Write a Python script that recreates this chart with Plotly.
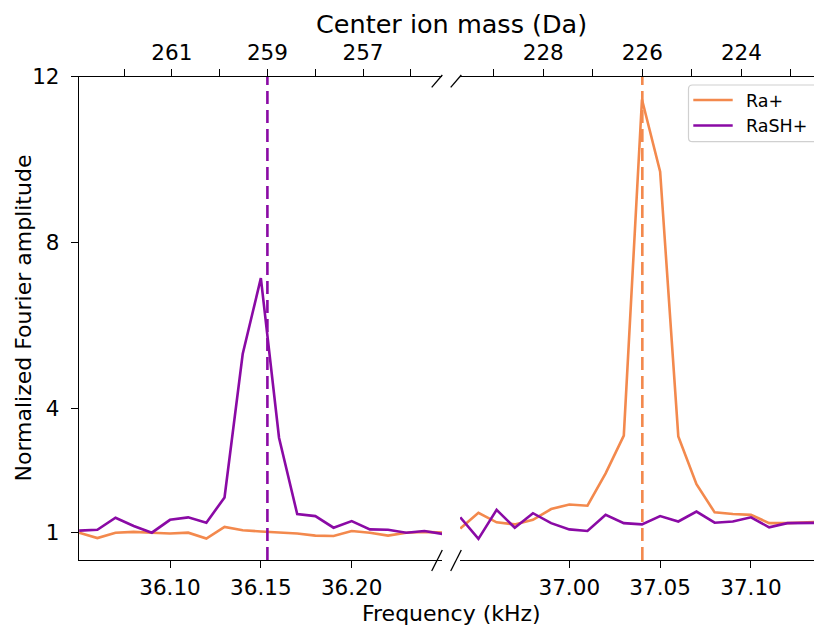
import plotly.graph_objects as go

# Frequency grids (kHz) of the two scan windows
freq_low = [36.05, 36.06, 36.07, 36.08, 36.09, 36.10, 36.11, 36.12, 36.13, 36.14, 36.15,
            36.16, 36.17, 36.18, 36.19, 36.20, 36.21, 36.22, 36.23, 36.24, 36.25]
freq_high = [36.94, 36.95, 36.96, 36.97, 36.98, 36.99, 37.00, 37.01, 37.02, 37.03, 37.04,
             37.05, 37.06, 37.07, 37.08, 37.09, 37.10, 37.11, 37.12, 37.13, 37.14]

# Normalized Fourier amplitudes
ra_low = [1.00, 0.87, 1.00, 1.02, 1.00, 0.98, 1.00, 0.86, 1.14, 1.06, 1.03,
          1.01, 0.98, 0.93, 0.92, 1.04, 1.00, 0.93, 1.00, 1.02, 1.00]
rash_low = [1.05, 1.07, 1.36, 1.16, 1.00, 1.31, 1.37, 1.24, 1.85, 5.31, 7.14,
            3.29, 1.45, 1.40, 1.12, 1.28, 1.08, 1.07, 1.00, 1.04, 0.97]
ra_high = [1.10, 1.48, 1.25, 1.20, 1.31, 1.57, 1.68, 1.65, 2.43, 3.34, 11.45,
           9.71, 3.32, 2.17, 1.49, 1.45, 1.43, 1.23, 1.23, 1.24, 1.27]
rash_high = [1.37, 0.85, 1.55, 1.12, 1.47, 1.23, 1.08, 1.04, 1.43, 1.23, 1.20,
             1.40, 1.27, 1.51, 1.24, 1.27, 1.37, 1.13, 1.23, 1.23, 1.24]

# Axis ticks
freq_low_ticks = [36.10, 36.15, 36.20]
freq_high_ticks = [37.00, 37.05, 37.10]
amp_ticks = [1, 4, 8, 12]
mass_low_ticks = [262, 261, 260, 259, 258, 257, 256]
mass_low_labels = ["", "261", "", "259", "", "257", ""]
mass_high_ticks = [229, 228, 227, 226, 225, 224, 223]
mass_high_labels = ["", "228", "", "226", "", "224", ""]

# Series names
species = ["Ra+", "RaSH+"]

# Center masses of the two species (Da)
rash_mass = 259
ra_mass = 226

# Mass -> frequency calibration of each window: (reference mass, frequency, kHz per Da)
cal_low = (259, 36.1536, 0.02631)
cal_high = (226, 37.0402, 0.02727)


def mass_to_freq(m, cal):
    m0, f0, step = cal
    return f0 + (m0 - m) * step


ORANGE = "#F3894D"
PURPLE = "#8A0AA5"
FONT = "DejaVu Sans"
W, H = 814, 627


def px(x):
    return x / W


def py(y):
    return (H - y) / H


x_low_range = [36.0499, 36.2497]
x_high_range = [36.93985, 37.13468]
y_range = [0.341, 12.0]

fig = go.Figure()

series = [
    (freq_low, ra_low, "x", species[0], ORANGE),
    (freq_low, rash_low, "x", species[1], PURPLE),
    (freq_high, ra_high, "x2", species[0], ORANGE),
    (freq_high, rash_high, "x2", species[1], PURPLE),
]
for xs, ys, ax, name, color in series:
    fig.add_trace(go.Scatter(x=xs, y=ys, xaxis=ax, yaxis="y", mode="lines", name=name,
                             showlegend=False, line=dict(color=color, width=2.6)))

# Dashed markers at the expected masses, placed on the mass axes
f_rash = mass_to_freq(rash_mass, cal_low)
f_ra = mass_to_freq(ra_mass, cal_high)
fig.add_trace(go.Scatter(x=[f_rash, f_rash], y=y_range, xaxis="x3", yaxis="y", mode="lines",
                         showlegend=False, hoverinfo="skip",
                         line=dict(color=PURPLE, width=2.6, dash="13px,6px")))
fig.add_trace(go.Scatter(x=[f_ra, f_ra], y=y_range, xaxis="x4", yaxis="y", mode="lines",
                         showlegend=False, hoverinfo="skip",
                         line=dict(color=ORANGE, width=2.6, dash="13px,6px")))

tick_font = dict(family=FONT, size=21.5, color="black")
axis_common = dict(showgrid=False, zeroline=False, showline=True, linecolor="black",
                   linewidth=1.3, ticks="outside", ticklen=7, tickwidth=1.3,
                   tickcolor="black", tickfont=tick_font, automargin=False)

dom_low = [px(79), px(442)]
dom_high = [px(460), 1.0]
dom_y = [py(560), py(76.7)]

fig.update_layout(
    width=W, height=H,
    margin=dict(l=0, r=0, t=0, b=0, autoexpand=False),
    paper_bgcolor="white", plot_bgcolor="white",
    showlegend=False,
    xaxis=dict(axis_common, domain=dom_low, range=x_low_range, anchor="y",
               tickvals=freq_low_ticks, ticktext=[f"{v:.2f}" for v in freq_low_ticks],
               ticklabelstandoff=1),
    xaxis2=dict(axis_common, domain=dom_high, range=x_high_range, anchor="y",
                tickvals=freq_high_ticks, ticktext=[f"{v:.2f}" for v in freq_high_ticks],
                ticklabelstandoff=1),
    xaxis3=dict(axis_common, overlaying="x", side="top", range=x_low_range, anchor="y",
                tickvals=[mass_to_freq(m, cal_low) for m in mass_low_ticks],
                ticktext=mass_low_labels, ticklabelstandoff=0),
    xaxis4=dict(axis_common, overlaying="x2", side="top", range=x_high_range, anchor="y",
                tickvals=[mass_to_freq(m, cal_high) for m in mass_high_ticks],
                ticktext=mass_high_labels, ticklabelstandoff=0),
    yaxis=dict(axis_common, domain=dom_y, range=y_range, anchor="x",
               tickvals=amp_ticks, ticktext=[str(v) for v in amp_ticks],
               ticklabelstandoff=7),
)

# Axis titles
fig.add_annotation(text="Center ion mass (Da)", x=px(451), y=py(24),
                   xref="paper", yref="paper", showarrow=False,
                   xanchor="center", yanchor="middle",
                   font=dict(family=FONT, size=25.5, color="black"))
fig.add_annotation(text="Frequency (kHz)", x=px(451), y=py(613),
                   xref="paper", yref="paper", showarrow=False,
                   xanchor="center", yanchor="middle",
                   font=dict(family=FONT, size=22, color="black"))
fig.add_annotation(text="Normalized Fourier amplitude", x=px(23), y=py(318.5),
                   xref="paper", yref="paper", showarrow=False, textangle=-90,
                   xanchor="center", yanchor="middle",
                   font=dict(family=FONT, size=22, color="black"))

# Axis break marks
for cx in (437, 456):
    for y0, y1 in ((87.3, 75.0), (571.0, 550.0)):
        fig.add_shape(type="line", xref="paper", yref="paper",
                      x0=px(cx - 5.3), x1=px(cx + 5.3), y0=py(y0), y1=py(y1),
                      line=dict(color="black", width=1.3))

# Legend box with rounded corners
lx0, lx1, ly0, ly1, r = 688.5, 820, 85, 141.7, 4
path = (f"M {px(lx0 + r)},{py(ly0)} L {px(lx1 - r)},{py(ly0)} "
        f"Q {px(lx1)},{py(ly0)} {px(lx1)},{py(ly0 + r)} "
        f"L {px(lx1)},{py(ly1 - r)} Q {px(lx1)},{py(ly1)} {px(lx1 - r)},{py(ly1)} "
        f"L {px(lx0 + r)},{py(ly1)} Q {px(lx0)},{py(ly1)} {px(lx0)},{py(ly1 - r)} "
        f"L {px(lx0)},{py(ly0 + r)} Q {px(lx0)},{py(ly0)} {px(lx0 + r)},{py(ly0)} Z")
fig.add_shape(type="path", path=path, xref="paper", yref="paper",
              fillcolor="rgba(255,255,255,0.9)", line=dict(color="#D0D0D0", width=1.2))

for row_y, name, color in ((100, species[0], ORANGE), (125.5, species[1], PURPLE)):
    fig.add_shape(type="line", xref="paper", yref="paper",
                  x0=px(693.3), x1=px(732.7), y0=py(row_y), y1=py(row_y),
                  line=dict(color=color, width=2.6))
    fig.add_annotation(text=name, x=px(744), y=py(row_y + 1), xref="paper", yref="paper",
                       showarrow=False, xanchor="left", yanchor="middle",
                       font=dict(family=FONT, size=17.5, color="black"))

fig.write_html("out.html")
